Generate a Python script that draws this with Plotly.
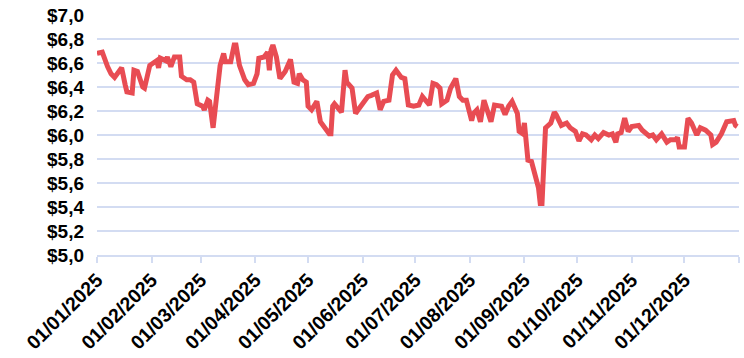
import plotly.graph_objects as go

# Daily price series for 2025
dates = [
    "2025-01-01", "2025-01-04", "2025-01-07", "2025-01-09", "2025-01-11", "2025-01-14",
    "2025-01-15", "2025-01-17", "2025-01-18", "2025-01-21", "2025-01-22", "2025-01-24",
    "2025-01-27", "2025-01-28", "2025-01-31", "2025-02-02", "2025-02-04", "2025-02-05",
    "2025-02-06", "2025-02-09", "2025-02-10", "2025-02-12", "2025-02-14", "2025-02-17",
    "2025-02-18", "2025-02-21", "2025-02-23", "2025-02-25", "2025-02-27", "2025-03-02",
    "2025-03-03", "2025-03-05", "2025-03-06", "2025-03-08", "2025-03-10", "2025-03-12",
    "2025-03-14", "2025-03-15", "2025-03-18", "2025-03-20", "2025-03-21", "2025-03-23",
    "2025-03-26", "2025-03-28", "2025-03-31", "2025-04-02", "2025-04-03", "2025-04-06",
    "2025-04-08", "2025-04-09", "2025-04-10", "2025-04-11", "2025-04-13", "2025-04-15",
    "2025-04-18", "2025-04-21", "2025-04-23", "2025-04-25", "2025-04-26", "2025-04-28",
    "2025-04-30", "2025-05-01", "2025-05-03", "2025-05-06", "2025-05-08", "2025-05-09",
    "2025-05-13", "2025-05-14", "2025-05-15", "2025-05-16", "2025-05-20", "2025-05-22",
    "2025-05-23", "2025-05-26", "2025-05-28", "2025-05-30", "2025-06-02", "2025-06-04",
    "2025-06-06", "2025-06-09", "2025-06-11", "2025-06-13", "2025-06-16", "2025-06-18",
    "2025-06-20", "2025-06-23", "2025-06-25", "2025-06-27", "2025-06-30", "2025-07-03",
    "2025-07-05", "2025-07-08", "2025-07-09", "2025-07-11", "2025-07-13", "2025-07-15",
    "2025-07-16", "2025-07-19", "2025-07-21", "2025-07-24", "2025-07-26", "2025-07-28",
    "2025-07-30", "2025-08-02", "2025-08-03", "2025-08-05", "2025-08-07", "2025-08-09",
    "2025-08-11", "2025-08-13", "2025-08-15", "2025-08-19", "2025-08-21", "2025-08-23",
    "2025-08-25", "2025-08-28", "2025-08-29", "2025-08-31", "2025-09-01", "2025-09-03",
    "2025-09-05", "2025-09-07", "2025-09-09", "2025-09-10", "2025-09-11", "2025-09-13",
    "2025-09-16", "2025-09-18", "2025-09-19", "2025-09-22", "2025-09-25", "2025-09-27",
    "2025-09-30", "2025-10-02", "2025-10-04", "2025-10-06", "2025-10-09", "2025-10-11",
    "2025-10-13", "2025-10-16", "2025-10-19", "2025-10-21", "2025-10-23", "2025-10-24",
    "2025-10-26", "2025-10-28", "2025-10-30", "2025-11-01", "2025-11-05", "2025-11-07",
    "2025-11-10", "2025-11-11", "2025-11-13", "2025-11-15", "2025-11-18", "2025-11-21",
    "2025-11-23", "2025-11-26", "2025-11-27", "2025-11-28", "2025-12-01", "2025-12-03",
    "2025-12-05", "2025-12-08", "2025-12-10", "2025-12-13", "2025-12-16", "2025-12-17",
    "2025-12-19", "2025-12-22", "2025-12-25", "2025-12-28", "2025-12-29", "2025-12-30",
    "2025-12-31",
]

prices = [
    6.68, 6.69, 6.57, 6.51, 6.48, 6.54,
    6.56, 6.42, 6.36, 6.35, 6.54, 6.53,
    6.40, 6.39, 6.58, 6.60, 6.62, 6.56,
    6.64, 6.62, 6.65, 6.57, 6.65, 6.65,
    6.49, 6.46, 6.46, 6.44, 6.26, 6.24,
    6.21, 6.29, 6.28, 6.06, 6.29, 6.58,
    6.68, 6.61, 6.61, 6.75, 6.75, 6.58,
    6.46, 6.42, 6.43, 6.51, 6.64, 6.65,
    6.69, 6.54, 6.71, 6.75, 6.65, 6.47,
    6.53, 6.63, 6.44, 6.43, 6.51, 6.46,
    6.44, 6.24, 6.21, 6.28, 6.11, 6.09,
    6.01, 6.01, 6.24, 6.26, 6.19, 6.54,
    6.44, 6.39, 6.18, 6.22, 6.29, 6.32,
    6.33, 6.35, 6.21, 6.28, 6.29, 6.50,
    6.54, 6.48, 6.47, 6.25, 6.24, 6.25,
    6.32, 6.26, 6.25, 6.43, 6.42, 6.39,
    6.26, 6.29, 6.39, 6.47, 6.32, 6.29,
    6.29, 6.12, 6.18, 6.21, 6.11, 6.29,
    6.21, 6.11, 6.25, 6.24, 6.17, 6.24,
    6.28, 6.18, 6.03, 6.01, 6.10, 5.79,
    5.78, 5.65, 5.56, 5.43, 5.43, 6.06,
    6.10, 6.19, 6.17, 6.08, 6.10, 6.06,
    6.03, 5.95, 6.01, 6.00, 5.96, 6.00,
    5.97, 6.02, 6.00, 6.01, 5.94, 6.01,
    6.02, 6.14, 6.03, 6.07, 6.08, 6.04,
    6.01, 5.99, 6.00, 5.96, 6.01, 5.94,
    5.96, 5.96, 5.98, 5.90, 5.90, 6.14,
    6.10, 6.00, 6.06, 6.04, 6.00, 5.92,
    5.94, 6.01, 6.11, 6.11, 6.12, 6.08,
    6.07,
]

# Month-start ticks; the final tick closes the year without a label
month_ticks = [
    "2025-01-01", "2025-02-01", "2025-03-01", "2025-04-01", "2025-05-01", "2025-06-01",
    "2025-07-01", "2025-08-01", "2025-09-01", "2025-10-01", "2025-11-01", "2025-12-01",
    "2026-01-01",
]
month_labels = [
    "01/01/2025", "01/02/2025", "01/03/2025", "01/04/2025", "01/05/2025", "01/06/2025",
    "01/07/2025", "01/08/2025", "01/09/2025", "01/10/2025", "01/11/2025", "01/12/2025",
    "",
]

LINE = "#E84C53"
GRID = "#D3DCF2"
FAMILY = "Liberation Sans, Arial, sans-serif"
YFONT = dict(family=FAMILY, size=19, color="#000000", weight="bold")
XFONT = dict(family=FAMILY, size=19.5, color="#000000", weight="bold")

fig = go.Figure(
    go.Scatter(
        x=dates,
        y=prices,
        mode="lines",
        line=dict(color=LINE, width=5, shape="linear"),
        hoverinfo="skip",
    )
)

fig.update_layout(
    width=744,
    height=358,
    margin=dict(l=97, r=5, t=15, b=103),
    paper_bgcolor="#FFFFFF",
    plot_bgcolor="#FFFFFF",
    showlegend=False,
    separators=", ",
    font=YFONT,
)

fig.update_xaxes(
    type="date",
    range=["2025-01-01", "2026-01-01"],
    tickmode="array",
    tickvals=month_ticks,
    ticktext=month_labels,
    tickangle=-45,
    tickfont=XFONT,
    automargin=False,
    showgrid=False,
    showline=True,
    linecolor=GRID,
    linewidth=2,
    ticks="outside",
    ticklen=6,
    tickwidth=2,
    tickcolor=GRID,
    ticklabelstandoff=-2,
    zeroline=False,
)

fig.update_yaxes(
    range=[5.0, 7.0],
    dtick=0.2,
    tick0=5.0,
    tickprefix="$",
    tickformat=".1f",
    tickfont=YFONT,
    automargin=False,
    showgrid=True,
    gridcolor=GRID,
    gridwidth=2,
    showline=False,
    zeroline=False,
    ticks="",
    ticklabelstandoff=12,
)

fig.write_html("out.html")
